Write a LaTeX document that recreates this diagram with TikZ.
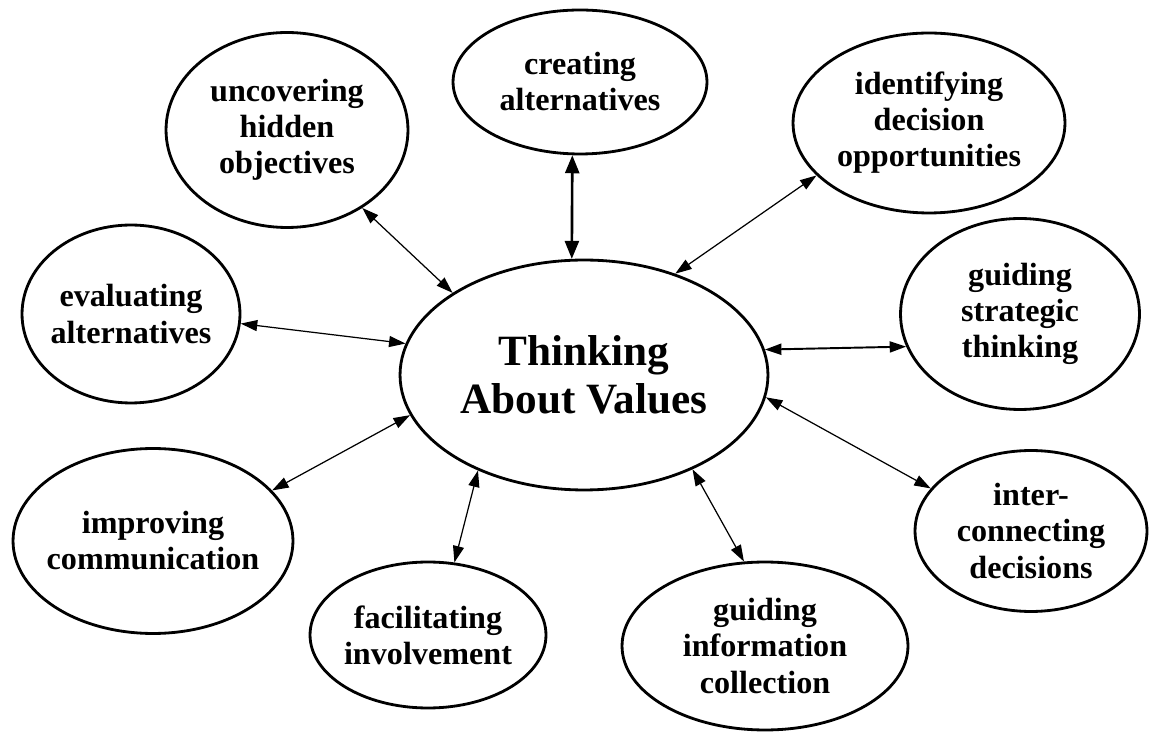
\documentclass[tikz,border=0pt]{standalone}
\usepackage{fontspec}
\setmainfont{Liberation Serif}
\usepackage{tikz}
\usetikzlibrary{shapes.geometric,arrows.meta}

\begin{document}
\begin{tikzpicture}[x = 0.02cm, y = -0.02cm,
                        bubble/.style = {ellipse, draw, line width = 1.6pt, inner sep = -5pt, align = center,
                                         font = \fontsize{18.3}{20.5}\selectfont\bfseries},
                        core/.style = {bubble, font = \fontsize{24.6}{27.5}\selectfont\bfseries},
                        link/.style = {{Triangle[length = 0.33cm, width = 0.22cm]}-{Triangle[length = 0.33cm, width = 0.22cm]}, line width = 0.7pt}]
      \useasboundingbox (0, 0) rectangle (1149, 732);
      \node [core, minimum width = 7.36cm, minimum height = 4.6cm] (tv) at (584, 375) {Thinking\\About Values};
      \node [bubble, minimum width = 5.08cm, minimum height = 2.88cm] (ca) at (580, 82) {creating\\alternatives};
      \node [bubble, minimum width = 4.84cm, minimum height = 3.9cm] (uh) at (287, 130) {uncovering\\hidden\\objectives};
      \node [bubble, minimum width = 5.44cm, minimum height = 3.6cm] (id) at (929, 123) {identifying\\decision\\opportunities};
      \node [bubble, minimum width = 4.36cm, minimum height = 3.56cm] (ea) at (131, 314) {evaluating\\alternatives};
      \node [bubble, minimum width = 4.78cm, minimum height = 3.82cm] (gs) at (1020, 314) {guiding\\strategic\\thinking};
      \node [bubble, minimum width = 5.6cm, minimum height = 3.7cm] (ic) at (153, 541) {improving\\communication};
      \node [bubble, minimum width = 4.72cm, minimum height = 2.92cm] (fi) at (428, 635) {facilitating\\involvement};
      \node [bubble, minimum width = 5.72cm, minimum height = 3.36cm] (gi) at (765, 646) {guiding\\information\\collection};
      \node [bubble, minimum width = 4.64cm, minimum height = 3.22cm] (cd) at (1031, 531) {inter-\\connecting\\decisions};
      \draw [link, line width = 1.5pt, {Triangle[length = 0.36cm, width = 0.28cm]}-{Triangle[length = 0.36cm, width = 0.28cm]}] (ca.264) -- (tv.96);
      \draw [link] (uh.314.6) -- (tv.148.8); \draw [link] (id.205.6) -- (tv.48.9);
      \draw [link] (ea.355.8) -- (tv.170.6);
      \draw [link, line width = 1.1pt] (gs.196.6) -- (tv.8.7);
      \draw [link] (ic.23.5) -- (tv.193.8); \draw [link] (fi.70) -- (tv.222.4);
      \draw [link] (gi.104.5) -- (tv.319.7); \draw [link] (cd.157) -- (tv.353.5);
    \end{tikzpicture}
\end{document}
